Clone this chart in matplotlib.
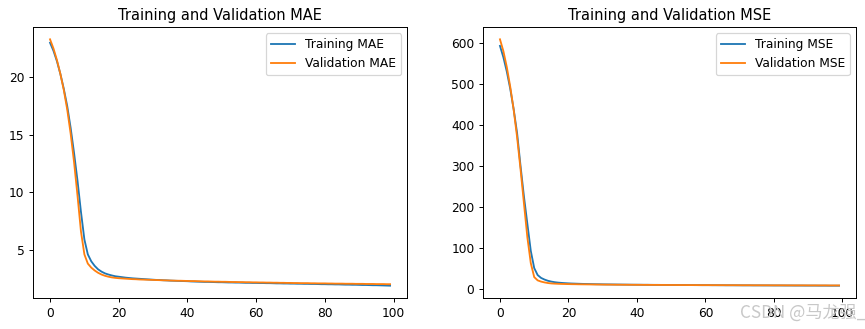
import numpy as np
import matplotlib
matplotlib.use('Agg')
import matplotlib.pyplot as plt

# values, one per epoch (0..99)
train_mae = [23.0, 22.3, 21.4, 20.3, 19.0, 17.5, 15.6, 13.4, 11.0, 8.3,
             5.9, 4.6, 4.0, 3.6, 3.3, 3.1, 2.95, 2.85, 2.77, 2.70,
             2.66, 2.62, 2.58, 2.55, 2.52, 2.50, 2.48, 2.46, 2.44, 2.42,
             2.40, 2.38, 2.37, 2.35, 2.34, 2.32, 2.31, 2.30, 2.29, 2.28,
             2.27, 2.25, 2.24, 2.23, 2.22, 2.21, 2.21, 2.20, 2.19, 2.18,
             2.18, 2.17, 2.16, 2.16, 2.15, 2.15, 2.14, 2.13, 2.13, 2.12,
             2.12, 2.11, 2.11, 2.10, 2.10, 2.09, 2.08, 2.08, 2.07, 2.07,
             2.06, 2.06, 2.05, 2.05, 2.04, 2.04, 2.03, 2.03, 2.02, 2.01,
             2.01, 2.00, 2.00, 1.99, 1.99, 1.98, 1.97, 1.97, 1.96, 1.96,
             1.95, 1.94, 1.94, 1.93, 1.92, 1.92, 1.91, 1.90, 1.89, 1.88]
val_mae = [23.3, 22.5, 21.5, 20.3, 18.9, 17.2, 15.1, 12.6, 9.7, 6.6,
           4.6, 3.8, 3.45, 3.2, 3.0, 2.85, 2.74, 2.66, 2.60, 2.56,
           2.53, 2.51, 2.49, 2.47, 2.45, 2.44, 2.42, 2.41, 2.40, 2.39,
           2.38, 2.37, 2.36, 2.35, 2.34, 2.33, 2.32, 2.31, 2.31, 2.30,
           2.29, 2.28, 2.28, 2.27, 2.26, 2.25, 2.25, 2.24, 2.23, 2.23,
           2.22, 2.22, 2.21, 2.20, 2.20, 2.19, 2.19, 2.18, 2.18, 2.17,
           2.17, 2.16, 2.16, 2.15, 2.15, 2.14, 2.14, 2.13, 2.13, 2.12,
           2.12, 2.11, 2.11, 2.10, 2.10, 2.10, 2.09, 2.09, 2.08, 2.08,
           2.08, 2.07, 2.07, 2.06, 2.06, 2.06, 2.05, 2.05, 2.05, 2.04,
           2.04, 2.04, 2.03, 2.03, 2.03, 2.02, 2.02, 2.02, 2.01, 2.01]
train_mse = [593, 565, 530, 488, 438, 380, 300, 225, 158, 92,
             50, 33, 26, 22, 19, 17, 15.5, 14.5, 13.8, 13.2,
             12.7, 12.3, 12.0, 11.7, 11.4, 11.2, 11.0, 10.8, 10.6, 10.5,
             10.3, 10.2, 10.1, 10.0, 9.9, 9.8, 9.7, 9.6, 9.5, 9.4,
             9.4, 9.3, 9.2, 9.2, 9.1, 9.0, 9.0, 8.9, 8.9, 8.8,
             8.8, 8.7, 8.7, 8.6, 8.6, 8.5, 8.5, 8.4, 8.4, 8.3,
             8.3, 8.3, 8.2, 8.2, 8.1, 8.1, 8.0, 8.0, 8.0, 7.9,
             7.9, 7.8, 7.8, 7.8, 7.7, 7.7, 7.7, 7.6, 7.6, 7.6,
             7.5, 7.5, 7.5, 7.4, 7.4, 7.4, 7.3, 7.3, 7.3, 7.2,
             7.2, 7.2, 7.2, 7.1, 7.1, 7.1, 7.0, 7.0, 7.0, 7.0]
val_mse = [609, 580, 541, 493, 437, 370, 292, 208, 125, 62,
           28, 20, 17, 15, 13.5, 12.5, 12.0, 11.6, 11.3, 11.1,
           10.9, 10.7, 10.6, 10.4, 10.3, 10.2, 10.1, 10.0, 9.9, 9.8,
           9.7, 9.6, 9.6, 9.5, 9.4, 9.4, 9.3, 9.3, 9.2, 9.2,
           9.1, 9.1, 9.0, 9.0, 8.9, 8.9, 8.9, 8.8, 8.8, 8.7,
           8.7, 8.7, 8.6, 8.6, 8.6, 8.5, 8.5, 8.5, 8.4, 8.4,
           8.4, 8.4, 8.3, 8.3, 8.3, 8.3, 8.2, 8.2, 8.2, 8.2,
           8.1, 8.1, 8.1, 8.1, 8.0, 8.0, 8.0, 8.0, 8.0, 7.9,
           7.9, 7.9, 7.9, 7.9, 7.8, 7.8, 7.8, 7.8, 7.8, 7.8,
           7.7, 7.7, 7.7, 7.7, 7.7, 7.7, 7.6, 7.6, 7.6, 7.6]

epochs = np.arange(len(train_mae))

DPI = 88
fig = plt.figure(figsize=(865/DPI, 329/DPI), dpi=DPI)
ax1 = fig.add_axes([0.0382, 0.0942, 0.4324, 0.8237])
ax2 = fig.add_axes([0.5584, 0.0942, 0.4312, 0.8237])

ax1.plot(epochs, train_mae, label='Training MAE')
ax1.plot(epochs, val_mae, label='Validation MAE')
ax1.set_title('Training and Validation MAE')
ax1.legend()

ax2.plot(epochs, train_mse, label='Training MSE')
ax2.plot(epochs, val_mse, label='Validation MSE')
ax2.set_title('Training and Validation MSE')
ax2.legend()

# site watermark
fig.text(0.855, 0.048, 'CSDN @马龙强_', fontsize=14, color='#c8c8c8',
         family=['Noto Sans CJK SC', 'DejaVu Sans'], va='center', zorder=0)

fig.savefig('out.png', dpi=DPI)
